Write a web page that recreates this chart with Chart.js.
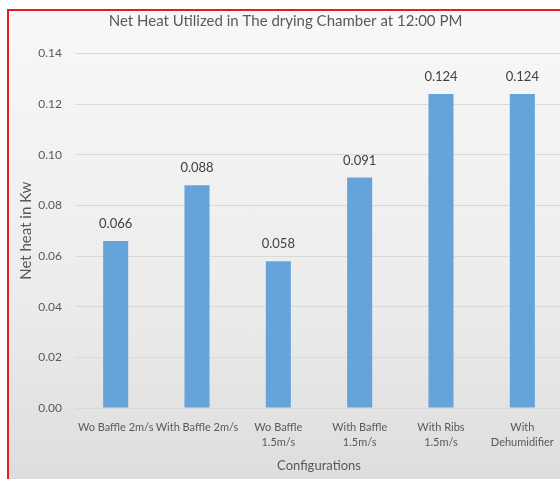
<!DOCTYPE html>
<html>
<head>
<meta charset="utf-8">
<script src="https://cdn.jsdelivr.net/npm/chart.js@4/dist/chart.umd.min.js"></script>
<style>
  html, body { margin: 0; padding: 0; width: 560px; height: 479px; overflow: hidden; background: #ffffff; }
  #frame {
    position: absolute; left: 7px; top: 9px; width: 600px; height: 520px;
    border-left: 2px solid #e41e1e; border-top: 2px solid #e41e1e;
    background: linear-gradient(to bottom, #f8f8f8 0%, #ececec 55%, #d9d9d9 100%);
  }
  #wrap { position: absolute; left: 8px; top: 10px; width: 562px; height: 480px; }
</style>
</head>
<body>
<div id="frame"></div>
<div id="wrap"><canvas id="chart" width="562" height="480"></canvas></div>
<script>
// Configurations tested and net heat utilized at noon (kW)
const categories = [
  'Wo Baffle 2m/s',
  'With Baffle 2m/s',
  ['Wo Baffle', '1.5m/s'],
  ['With Baffle', '1.5m/s'],
  ['With Ribs', '1.5m/s'],
  ['With', 'Dehumidifier']
];
const netHeat = [0.066, 0.088, 0.058, 0.091, 0.124, 0.124];
const yTicks = [0, 0.02, 0.04, 0.06, 0.08, 0.10, 0.12, 0.14];

const FONT = 'Lato, "Open Sans", sans-serif';
const TEXT = '#595959';

// Writes each bar's value above it
const valueLabels = {
  id: 'valueLabels',
  afterDatasetsDraw(chart) {
    const ctx = chart.ctx;
    const meta = chart.getDatasetMeta(0);
    const values = chart.data.datasets[0].data;
    ctx.save();
    ctx.font = '13px ' + FONT;
    ctx.fillStyle = '#404040';
    ctx.textAlign = 'center';
    ctx.textBaseline = 'middle';
    meta.data.forEach((bar, i) => {
      ctx.fillText(values[i].toFixed(3), bar.x, bar.y - 17);
    });
    ctx.restore();
  }
};

new Chart(document.getElementById('chart'), {
  type: 'bar',
  data: {
    labels: categories,
    datasets: [{
      data: netHeat,
      backgroundColor: '#66a3db',
      borderWidth: 0,
      categoryPercentage: 0.8,
      barPercentage: 0.385
    }]
  },
  options: {
    responsive: false,
    animation: false,
    layout: { padding: { left: 0, right: 7, top: 0, bottom: 0 } },
    plugins: {
      legend: { display: false },
      tooltip: { enabled: false },
      title: {
        display: true,
        text: 'Net Heat Utilized in The drying Chamber at 12:00 PM',
        color: TEXT,
        font: { family: FONT, size: 15, weight: 'normal', lineHeight: 1.2 },
        padding: { top: 2, bottom: 23.5 }
      }
    },
    scales: {
      x: {
        grid: { display: false, drawTicks: false },
        border: { display: false },
        ticks: {
          color: TEXT,
          font: { family: FONT, size: 11, lineHeight: 1.45 },
          padding: 11,
          maxRotation: 0,
          autoSkip: false
        },
        title: {
          display: true,
          text: 'Configurations',
          color: TEXT,
          font: { family: FONT, size: 13, lineHeight: 1.2 },
          padding: { top: 0, bottom: 16 }
        },
        afterFit(scale) { scale.height = 82; }
      },
      y: {
        min: 0,
        max: 0.14,
        afterBuildTicks(scale) { scale.ticks = yTicks.map(v => ({ value: v })); },
        grid: { color: '#d9d9d9', lineWidth: 1, drawTicks: false },
        border: { display: false },
        ticks: {
          color: TEXT,
          font: { family: FONT, size: 12 },
          padding: 13,
          callback: v => Number(v).toFixed(2)
        },
        title: {
          display: true,
          text: 'Net heat in Kw',
          color: TEXT,
          font: { family: FONT, size: 15, lineHeight: 1.2 },
          padding: { top: 9, bottom: 0 }
        },
        afterFit(scale) { scale.width = 67; }
      }
    }
  },
  plugins: [valueLabels]
});
</script>
</body>
</html>
